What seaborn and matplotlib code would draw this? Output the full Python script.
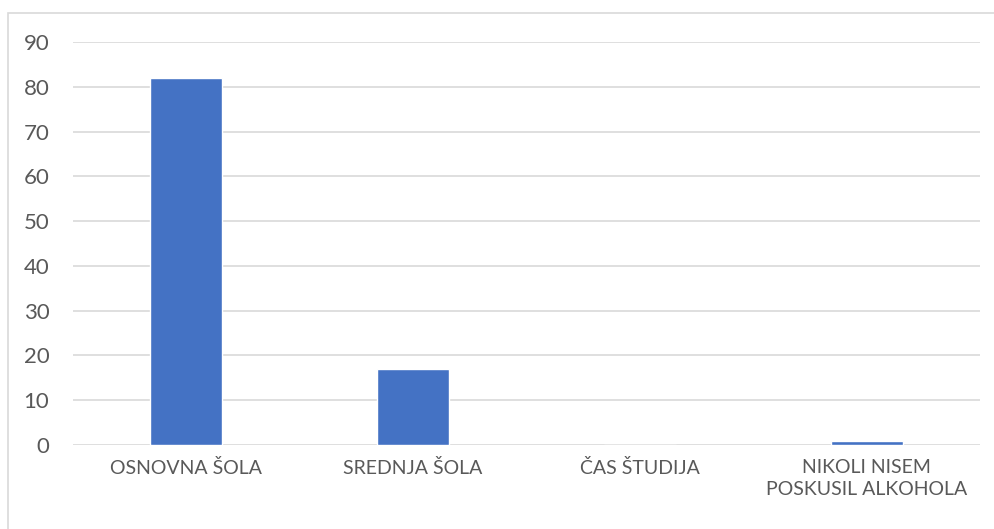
import matplotlib
matplotlib.use("Agg")
import matplotlib.pyplot as plt
import seaborn as sns
import pandas as pd
from matplotlib.patches import Rectangle

categories = ["OSNOVNA ŠOLA", "SREDNJA ŠOLA", "ČAS ŠTUDIJA", "NIKOLI NISEM\nPOSKUSIL ALKOHOLA"]
values = [82, 17, 0, 1]
yticks = [0, 10, 20, 30, 40, 50, 60, 70, 80, 90]

sns.set_theme(style="white")
plt.rcParams['font.family'] = ['Lato', 'DejaVu Sans']

W, H = 995, 529
fig = plt.figure(figsize=(W / 100, H / 100), dpi=100)
ax = fig.add_axes([73 / W, 1 - 445 / H, (980 - 73) / W, (445 - 42) / H])

df = pd.DataFrame({"cat": categories, "val": values})
sns.barplot(data=df, x="cat", y="val", color="#4472C4", saturation=1, width=0.317, ax=ax, zorder=3)

ax.set_ylim(0, 90)
ax.set_xlim(-0.5, 3.5)
ax.set_yticks(yticks)
ax.yaxis.grid(True, color="#D9D9D9", linewidth=1.2, zorder=0)
ax.set_axisbelow(True)
for s in ax.spines.values():
    s.set_visible(False)
ax.set_xlabel("")
ax.set_ylabel("")
ax.tick_params(axis="y", length=0, pad=17, labelsize=16, labelcolor="#595959")
ax.tick_params(axis="x", length=0, pad=10, labelsize=14, labelcolor="#595959")
for lbl in ax.get_xticklabels():
    lbl.set_linespacing(1.35)

fig.patches.append(Rectangle((8 / W, -0.1), 1.2, 1 - 13 / H + 0.1, transform=fig.transFigure,
                             fill=False, edgecolor="#D9D9D9", linewidth=1.2))

fig.savefig("out.png", dpi=100)
